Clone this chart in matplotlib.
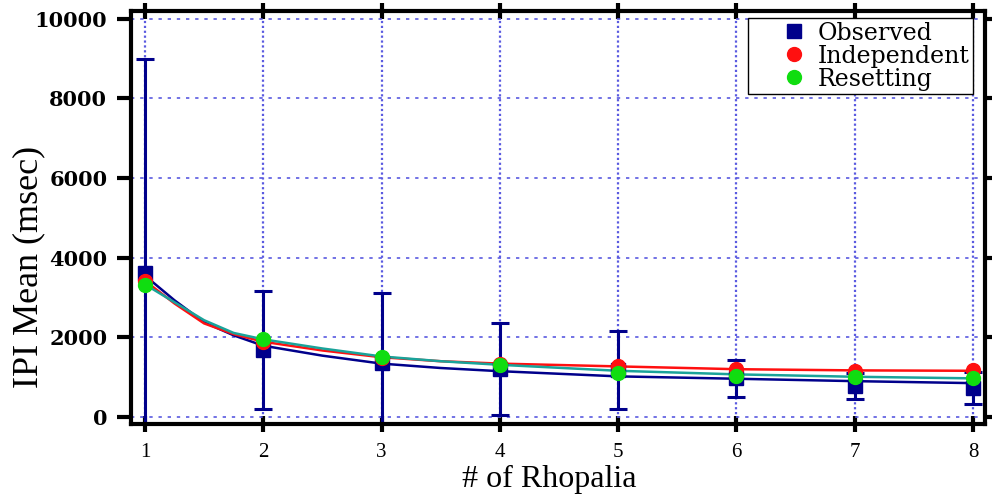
import matplotlib
matplotlib.use('Agg')
import matplotlib.pyplot as plt

rhopalia = [1, 2, 3, 4, 5, 6, 7, 8]

# measured means with error
observed = [3620, 1680, 1360, 1200, 1180, 970, 780, 720]
observed_err = [5380, 1480, 1750, 1150, 980, 460, 330, 400]
independent = [3420, 1890, 1480, 1320, 1280, 1195, 1160, 1170]
resetting = [3320, 1950, 1500, 1305, 1110, 1030, 995, 970]

# curves
curve_x = [1, 1.25, 1.5, 1.75, 2, 2.5, 3, 3.5, 4, 5, 6, 7, 8]
observed_curve = [3550, 2930, 2380, 2050, 1790, 1540, 1340, 1230, 1150, 1020, 960, 900, 850]
independent_curve = [3420, 2850, 2350, 2080, 1890, 1670, 1500, 1400, 1340, 1270, 1200, 1170, 1160]
resetting_curve = [3330, 2880, 2430, 2110, 1950, 1720, 1520, 1400, 1310, 1160, 1070, 1010, 970]

navy = '#00008b'
red = '#ff1010'
green = '#10dd10'
teal = '#1aa39a'
serif = ['Liberation Serif', 'DejaVu Serif']

fig = plt.figure(figsize=(9.92, 5.0), dpi=100)
ax = fig.add_axes([0.132, 0.152, 0.861, 0.826])

ax.plot(curve_x, observed_curve, color=navy, lw=1.8, zorder=3)
ax.plot(curve_x, independent_curve, color=red, lw=1.8, zorder=3)
ax.plot(curve_x, resetting_curve, color=teal, lw=1.8, zorder=3)

ax.errorbar(rhopalia, observed, yerr=observed_err, fmt='none', ecolor=navy,
            elinewidth=2.2, capsize=6.5, capthick=2.2, zorder=2)
ax.plot(rhopalia, observed, 's', color=navy, ms=10, ls='none', zorder=4, label='Observed')
ax.plot(rhopalia, independent, 'o', color=red, ms=10, ls='none', zorder=5, label='Independent')
ax.plot(rhopalia, resetting, 'o', color=green, ms=10, ls='none', zorder=6, label='Resetting')

ax.set_xlim(0.882, 8.101)
ax.set_ylim(-176, 10193)
ax.set_xticks(rhopalia)
ax.set_yticks([0, 2000, 4000, 6000, 8000, 10000])

ax.grid(True, axis='y', color='#5a5ae0', linestyle=(0, (2, 3.5)), lw=1.2)
ax.grid(True, axis='x', color='#5a5ae0', linestyle=(0, (1, 1.2)), lw=1.6)
ax.set_axisbelow(True)

for s in ax.spines.values():
    s.set_linewidth(3.0)
ax.tick_params(axis='x', direction='inout', length=11, width=3.0, top=True, pad=8)
ax.tick_params(axis='y', direction='out', length=10, width=3.0, right=True, pad=7)

for lbl in ax.get_xticklabels():
    lbl.set_family(serif)
    lbl.set_fontsize(15)
for lbl in ax.get_yticklabels():
    lbl.set_family(['DejaVu Serif'])
    lbl.set_fontsize(15)
    lbl.set_fontweight('bold')

ax.set_xlabel('# of Rhopalia', family=serif, fontsize=23, va='top')
ax.xaxis.set_label_coords(0.49, -0.1)
ax.set_ylabel('IPI Mean (msec)', family=serif, fontsize=26)
ax.yaxis.set_label_coords(-0.1, 0.38)

leg = ax.legend(loc='upper right', bbox_to_anchor=(0.986, 0.983), borderaxespad=0,
                prop={'family': ['DejaVu Serif'], 'size': 17}, fancybox=False, framealpha=1,
                edgecolor='black', handletextpad=-0.8, borderpad=0.15, labelspacing=0.0,
                handlelength=3.6)
leg.get_frame().set_linewidth(1.0)

fig.savefig('out.png', dpi=100)
